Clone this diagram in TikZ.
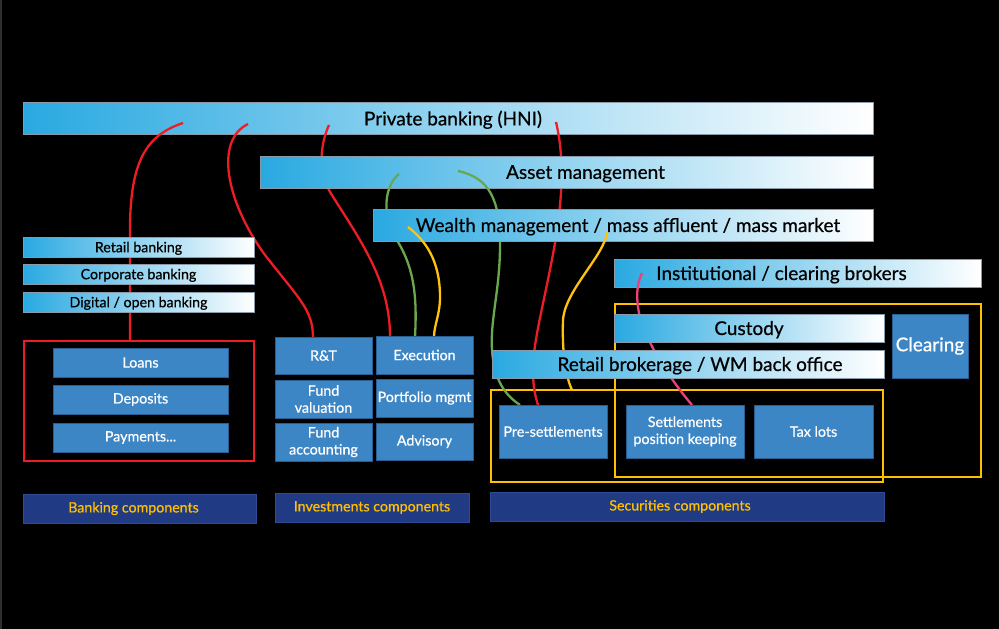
\documentclass[tikz,border=0pt]{standalone}
\usepackage{fontspec}
\setmainfont{Lato}[FakeBold=0.6]
\definecolor{barL}{HTML}{29A9E1}
\definecolor{barline}{HTML}{8A9AA8}
\definecolor{boxblue}{HTML}{3D86C6}
\definecolor{boxedge}{HTML}{2A5E92}
\definecolor{navy}{HTML}{203A84}
\definecolor{navyedge}{HTML}{2E4C96}
\definecolor{gold}{HTML}{FFC000}
\definecolor{linered}{HTML}{EE1C25}
\definecolor{linegreen}{HTML}{6AA84F}
\definecolor{lineyellow}{HTML}{FFC20E}
\definecolor{linepink}{HTML}{EC407A}
\begin{document}
\begin{tikzpicture}[x=1pt,y=-1pt,
  base/.style={inner sep=0pt, outer sep=0pt, anchor=north west, align=center},
  bar/.style={base, draw=barline, line width=0.6pt, left color=barL, right color=white, text=black, text depth=0pt},
  bigtxt/.style={font=\fontsize{19}{22}\selectfont},
  smalltxt/.style={font=\fontsize{14.2}{16}\selectfont},
  bluebox/.style={base, fill=boxblue, draw=boxedge, line width=0.6pt, text=white, font=\fontsize{14.3}{17}\selectfont},
  compbox/.style={base, fill=navy, draw=navyedge, line width=0.6pt, text=gold, font=\fontsize{14.2}{16}\selectfont},
  frame/.style={line width=2.4pt},
  conn/.style={line width=2.3pt},
]
\useasboundingbox (0,0) rectangle (999,629);
\fill[black] (0,0) rectangle (999,629);
\fill[black!82!white] (0,0) rectangle (2,629);

% anchor points for connector ends
\coordinate (c1a) at (183,123);
\coordinate (c2a) at (248,124);
\coordinate (c3a) at (329,125);
\coordinate (c4a) at (399,174);
\coordinate (c5a) at (408,227);
\coordinate (c6a) at (458,171);
\coordinate (c7a) at (556,122);
\coordinate (c8a) at (607,232);
\coordinate (c9a) at (642,273);

% frames
\draw[frame, gold] (615,304) rectangle (981,477);
\draw[frame, gold] (491,390) rectangle (883,482);
\draw[frame, linered] (24,341) rectangle (254,461);

% Private banking bar and its connectors
\node[bar, bigtxt, minimum width=850, minimum height=32] (pb) at (23,102) {\hspace*{10pt}Private banking (HNI)};
\draw[conn, linered] (c1a) .. controls (147,135) and (130,160) .. (130,230) -- (130,341);
\draw[conn, linered] (c2a) .. controls (215,140) and (225,200) .. (265,255) .. controls (300,300) and (313,310) .. (313,338);
\draw[conn, linered] (c3a) .. controls (320,145) and (318,170) .. (330,192) .. controls (360,240) and (390,280) .. (390,337);
\draw[conn, linered] (c7a) .. controls (565,160) and (562,200) .. (555,243) .. controls (545,300) and (533,340) .. (533,370) .. controls (533,390) and (536,398) .. (538,405);

% Asset management bar and its connectors
\node[bar, bigtxt, minimum width=613, minimum height=32] (am) at (260,156) {\hspace*{38pt}Asset management};
\draw[conn, linegreen] (c4a) .. controls (385,185) and (380,215) .. (398,242) .. controls (415,270) and (417,300) .. (415,337);
\draw[conn, linegreen] (c6a) .. controls (490,178) and (500,200) .. (500,245) .. controls (500,290) and (490,320) .. (492,350) .. controls (494,380) and (505,395) .. (520,405);

% Wealth management bar and its connectors
\node[bar, bigtxt, minimum width=500, minimum height=32] (wm) at (373,209) {\hspace*{10pt}Wealth management / mass affluent / mass market};
\draw[conn, lineyellow] (c5a) .. controls (425,240) and (440,260) .. (440,297) .. controls (440,315) and (434,325) .. (434,337);
\draw[conn, lineyellow] (c8a) .. controls (605,255) and (565,290) .. (563,320) .. controls (562,350) and (565,375) .. (572,390);

% Institutional bar and its connector
\node[bar, bigtxt, minimum width=367, minimum height=28] (ic) at (614,259) {Institutional / clearing brokers\hspace*{32pt}};
\draw[conn, linepink] (c9a) .. controls (636,285) and (636,300) .. (640,318) .. controls (650,350) and (675,385) .. (692,405);

% other bars
\node[bar, smalltxt, minimum width=231, minimum height=20] (rb) at (23,237) {Retail banking};
\node[bar, smalltxt, minimum width=231, minimum height=20] (cb) at (23,264) {Corporate banking};
\node[bar, smalltxt, minimum width=231, minimum height=20] (db) at (23,292) {Digital / open banking};
\node[bar, bigtxt, minimum width=270, minimum height=28] (cu) at (614,314) {Custody};
\node[bar, bigtxt, minimum width=392, minimum height=28] (rw) at (492,350) {\hspace*{24pt}Retail brokerage / WM back office};
\node[bluebox, font=\fontsize{19}{22}\selectfont, minimum width=76, minimum height=64] (cl) at (892,314) {Clearing};

% banking
\node[bluebox, minimum width=175, minimum height=29] (lo) at (53,348) {Loans};
\node[bluebox, minimum width=175, minimum height=29] (de) at (53,385) {Deposits};
\node[bluebox, minimum width=175, minimum height=29] (pa) at (53,423) {Payments...};

% investments
\node[bluebox, minimum width=97, minimum height=37] (rt) at (275,337) {R\&T};
\node[bluebox, minimum width=97, minimum height=38] (ex) at (376,336) {Execution};
\node[bluebox, minimum width=97, minimum height=38] (fv) at (275,380) {Fund\\valuation};
\node[bluebox, minimum width=97, minimum height=38] (pm) at (376,379) {Portfolio mgmt};
\node[bluebox, minimum width=97, minimum height=38] (fa) at (275,423) {Fund\\accounting};
\node[bluebox, minimum width=97, minimum height=37] (ad) at (376,423) {Advisory};

% securities
\node[bluebox, minimum width=108, minimum height=53] (ps) at (499,405) {Pre-settlements};
\node[bluebox, minimum width=118, minimum height=53] (sp) at (626,405) {Settlements\\position keeping};
\node[bluebox, minimum width=119, minimum height=53] (tl) at (754,405) {Tax lots};

% components
\node[compbox, minimum width=233, minimum height=29] (bc) at (23,494) {Banking components\hspace*{12pt}};
\node[compbox, minimum width=194, minimum height=29] (inv) at (275,493) {Investments components};
\node[compbox, minimum width=394, minimum height=29] (sc) at (490,492) {Securities components\hspace*{14pt}};
\end{tikzpicture}
\end{document}
